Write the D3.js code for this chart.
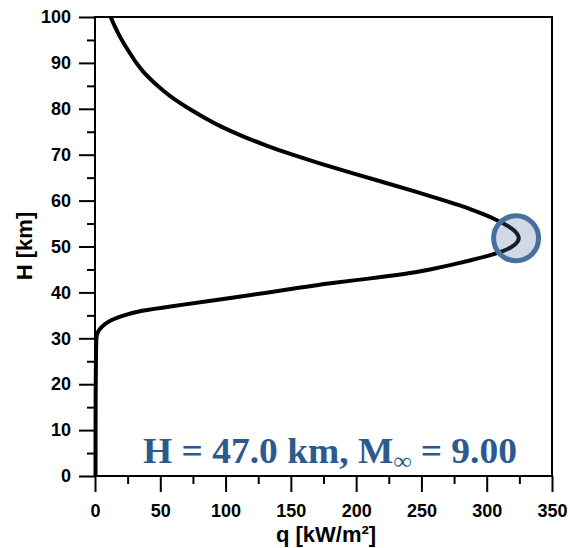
<!DOCTYPE html>
<html>
<head>
<meta charset="utf-8">
<script src="https://cdn.jsdelivr.net/npm/d3@7"></script>
<style>
  body { margin: 0; background: #fff; }
  svg text { font-family: "Liberation Sans", Arial, sans-serif; }
</style>
</head>
<body>
<div id="chart"></div>
<script>
// altitude H [km] and heat flux q [kW/m2]
const altitude = [0, 10, 20, 28, 30, 31, 32, 33, 34, 35, 36, 37, 38, 39, 40, 41, 42, 43, 44, 45, 46, 47, 48, 49, 50, 51, 52, 53, 54, 55, 56, 57, 58, 59, 60, 62, 64, 66, 68, 70, 72, 74, 76, 78, 80, 82, 84, 86, 88, 90, 92, 94, 96, 98, 100];
const heatFlux = [0.4, 0.4, 0.5, 0.8, 1.0, 1.4, 3.5, 7, 12, 22, 34, 59, 85, 109, 133, 156, 179, 210, 238, 257, 273, 288, 302, 313, 320, 324, 325, 323, 319, 313, 306, 298, 289, 279, 268, 245, 221, 197, 173, 151, 131, 113, 97, 84, 72, 61, 52, 44, 37, 31.5, 27, 22.5, 18.5, 15, 12];
const marker = {q: 322.5, H: 51.8};
const xTicks = [0, 50, 100, 150, 200, 250, 300, 350];
const yTicks = [0, 10, 20, 30, 40, 50, 60, 70, 80, 90, 100];
const xLabel = "q [kW/m²]";
const yLabel = "H [km]";

const W = 570, H = 548;
const plotL = 95, plotR = 552, plotT = 17, plotB = 476;

const svg = d3.select("#chart").append("svg")
    .attr("width", W).attr("height", H);

const x = d3.scaleLinear().domain([0, 350]).range([plotL, plotR]);
const y = d3.scaleLinear().domain([0, 100]).range([plotB, plotT]);

// minor ticks first
svg.append("g")
    .attr("transform", `translate(0,${plotB})`)
    .call(d3.axisBottom(x).tickValues(d3.range(25, 350, 50)).tickSize(8).tickFormat("").tickSizeOuter(0))
    .call(g => g.select(".domain").remove())
    .call(g => g.selectAll("line").attr("stroke-width", 2));
svg.append("g")
    .attr("transform", `translate(${plotL},0)`)
    .call(d3.axisLeft(y).tickValues(d3.range(5, 100, 10)).tickSize(8).tickFormat("").tickSizeOuter(0))
    .call(g => g.select(".domain").remove())
    .call(g => g.selectAll("line").attr("stroke-width", 2));

// major axes
const xAxis = svg.append("g")
    .attr("transform", `translate(0,${plotB})`)
    .call(d3.axisBottom(x).tickValues(xTicks).tickSize(16).tickPadding(12).tickSizeOuter(0));
const yAxis = svg.append("g")
    .attr("transform", `translate(${plotL},0)`)
    .call(d3.axisLeft(y).tickValues(yTicks).tickSize(16).tickPadding(8).tickSizeOuter(0));
[xAxis, yAxis].forEach(g => {
  g.select(".domain").remove();
  g.selectAll("line").attr("stroke-width", 2);
  g.selectAll("text")
    .style("font-family", '"Liberation Sans", Arial, sans-serif')
    .style("font-weight", "bold")
    .style("font-size", "18px")
    .attr("fill", "#000");
});

// frame
svg.append("rect")
    .attr("x", plotL).attr("y", plotT)
    .attr("width", plotR - plotL).attr("height", plotB - plotT)
    .attr("fill", "none").attr("stroke", "#000").attr("stroke-width", 2);

// curve
const line = d3.line()
    .x((d, i) => x(heatFlux[i]))
    .y(d => y(d))
    .curve(d3.curveBasis);
svg.append("path")
    .datum(altitude)
    .attr("d", line)
    .attr("fill", "none")
    .attr("stroke", "#000")
    .attr("stroke-width", 4)
    .attr("stroke-linejoin", "round");

// current point marker
svg.append("circle")
    .attr("cx", x(marker.q)).attr("cy", y(marker.H)).attr("r", 22.5)
    .attr("fill", "rgba(74,116,160,0.27)")
    .attr("stroke", "#46719e").attr("stroke-width", 5);

// axis titles
svg.append("text")
    .attr("x", 326).attr("y", 542)
    .attr("text-anchor", "middle")
    .style("font-weight", "bold").style("font-size", "22px")
    .text(xLabel);
svg.append("text")
    .attr("transform", "translate(32,246) rotate(-90)")
    .attr("text-anchor", "middle")
    .style("font-weight", "bold").style("font-size", "22px")
    .text(yLabel);

// annotation
const noteX = 143, noteW = 374;
const note = svg.append("text")
    .attr("x", noteX).attr("y", 463)
    .style("font-family", '"Liberation Serif", "Times New Roman", serif')
    .style("font-weight", "bold").style("font-size", "36px")
    .attr("fill", "#2c5a8e");
note.append("tspan").text("H = 47.0 km, M");
note.append("tspan").attr("dy", 6).style("font-size", "24px").text("∞");
note.append("tspan").attr("dy", -6).text(" = 9.00");
const bw = note.node().getBBox().width;
note.attr("transform", `translate(${noteX},0) scale(${noteW / bw},1) translate(${-noteX},0)`);
</script>
</body>
</html>
